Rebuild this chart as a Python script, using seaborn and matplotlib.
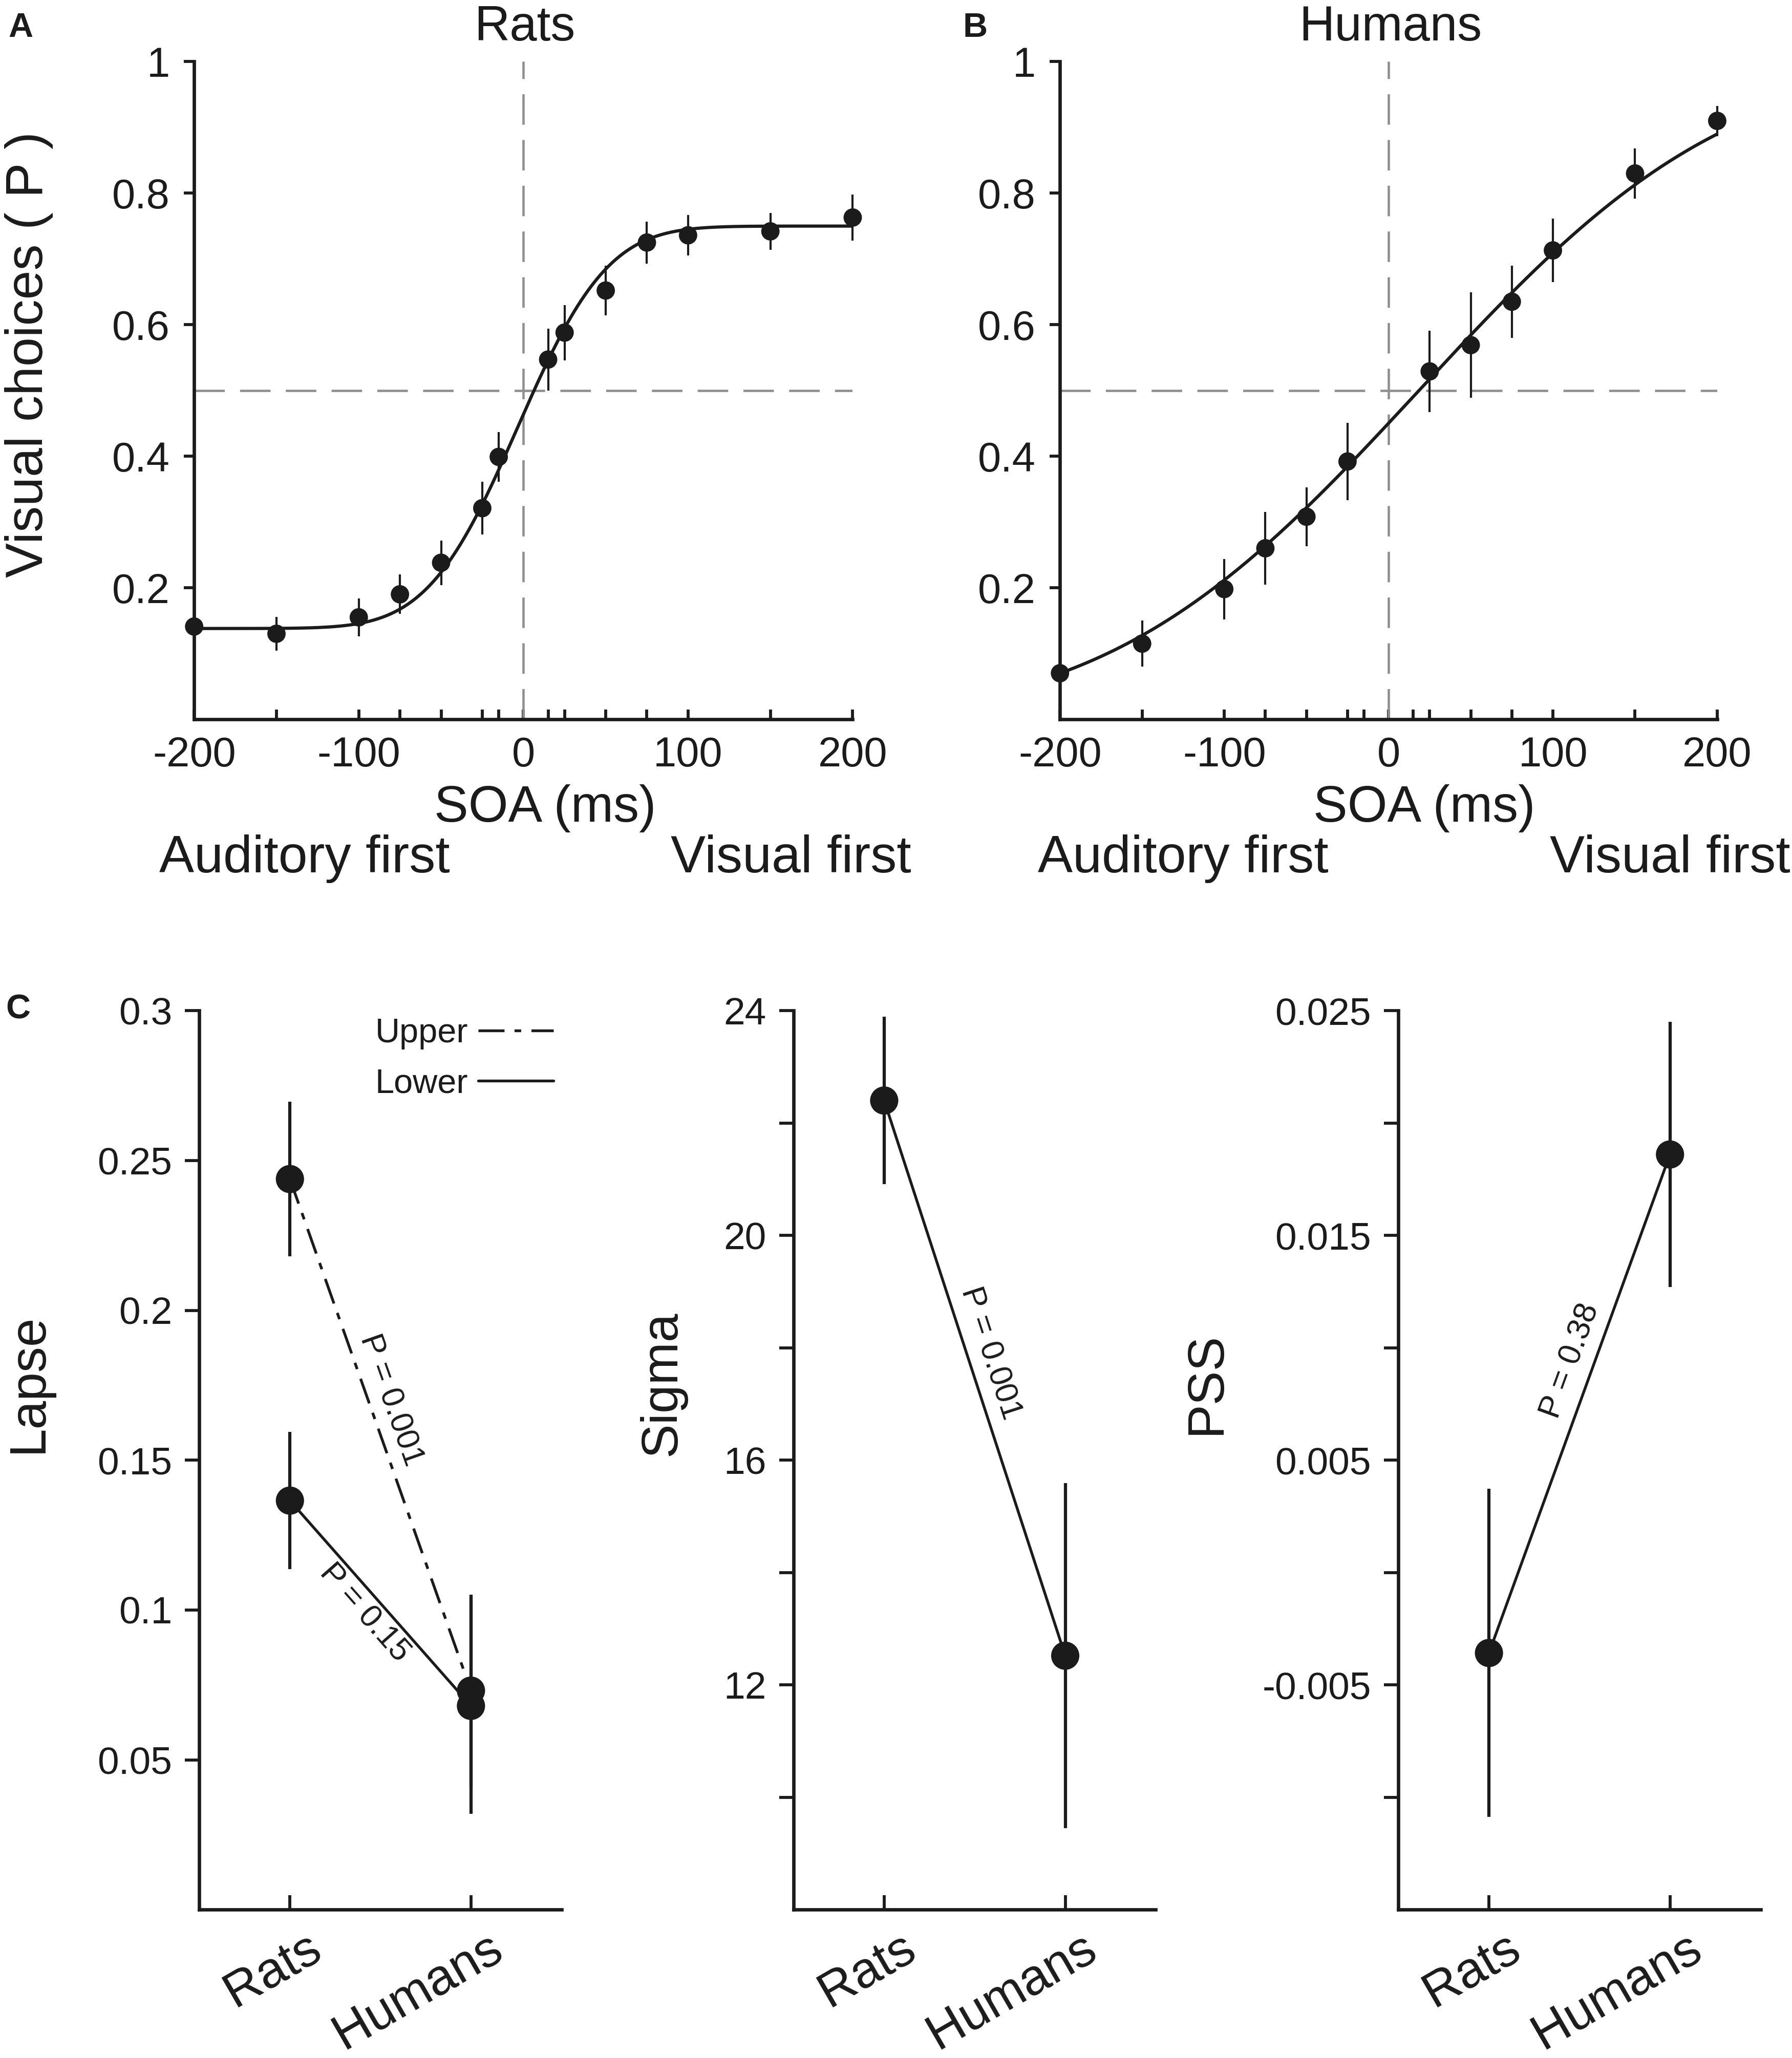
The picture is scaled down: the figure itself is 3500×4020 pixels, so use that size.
import math
import numpy as np
import pandas as pd
import matplotlib
matplotlib.use("Agg")
import matplotlib.pyplot as plt
from matplotlib.lines import Line2D
import seaborn as sns

# ---------------- panels A / B : psychometric data ----------------
soa_ticks = [-200, -150, -100, -75, -50, -25, -15, 0, 15, 25, 50, 75, 100, 150, 200]
soa_ticklabels = ["-200", "", "-100", "", "", "", "", "0", "", "", "", "", "100", "", "200"]
p_ticks = [0.2, 0.4, 0.6, 0.8, 1.0]
p_ticklabels = ["0.2", "0.4", "0.6", "0.8", "1"]

rat_soa = [-200, -150, -100, -75, -50, -25, -15, 15, 25, 50, 75, 100, 150, 200]
rat_p = [0.141, 0.130, 0.155, 0.190, 0.238, 0.321, 0.399, 0.547, 0.588, 0.652, 0.725, 0.736, 0.742, 0.763]
rat_err = [0.012, 0.026, 0.029, 0.030, 0.034, 0.040, 0.038, 0.047, 0.042, 0.038, 0.032, 0.031, 0.028, 0.035]

human_soa = [-200, -150, -100, -75, -50, -25, 25, 50, 75, 100, 150, 200]
human_p = [0.070, 0.115, 0.198, 0.260, 0.308, 0.392, 0.529, 0.569, 0.635, 0.713, 0.830, 0.910]
human_err = [0.010, 0.035, 0.046, 0.055, 0.045, 0.059, 0.062, 0.080, 0.055, 0.048, 0.038, 0.023]

# fitted cumulative-gaussian parameters (guess rate, lapse rate, PSS, sigma)
rat_fit = [0.138, 0.250, -3.5, 43.0]
human_fit = [0.0, 0.0, 18.5, 148.0]

# ---------------- panel C : fit parameters ----------------
groups = ["Rats", "Humans"]
lapse_upper = [0.2438, 0.0731]
lapse_upper_err = [0.0258, 0.032]
lapse_lower = [0.1365, 0.0680]
lapse_lower_err = [0.0229, 0.036]
sigma_vals = [22.40, 12.52]
sigma_err = [1.49, 3.07]
pss_vals = [-0.00358, 0.0186]
pss_err = [0.0073, 0.0059]

INK = "#1b1b1b"
GRID = "#8f8f8f"

sns.set_style("ticks")
plt.rcParams["font.family"] = ["Liberation Sans", "DejaVu Sans"]
plt.rcParams["text.color"] = INK
plt.rcParams["axes.edgecolor"] = INK
plt.rcParams["xtick.color"] = INK
plt.rcParams["ytick.color"] = INK
plt.rcParams["axes.linewidth"] = 1.6

fig = plt.figure(figsize=(3500 / 300, 4020 / 300), dpi=300)


def fx(px):
    return px / 1366.0


def fy(py):
    return 1.0 - py / 1568.0


def psychometric(x, g, l, mu, s):
    return np.array([g + (1 - g - l) * 0.5 * (1 + math.erf((v - mu) / (s * math.sqrt(2)))) for v in x])


def psych_panel(rect, soa, p, err, fit):
    ax = fig.add_axes(rect)
    ax.axhline(0.5, color=GRID, lw=1.1, dashes=(13, 6.5), zorder=1)
    ax.axvline(0, color=GRID, lw=1.1, dashes=(13, 6.5), zorder=1)
    grid = np.linspace(-200, 200, 401)
    curve = pd.DataFrame({"soa": grid, "p": psychometric(grid, *fit)})
    sns.lineplot(data=curve, x="soa", y="p", ax=ax, color=INK, lw=1.5, zorder=3)
    ax.errorbar(soa, p, yerr=err, fmt="none", ecolor=INK, elinewidth=1.0, capsize=0, zorder=4, clip_on=False)
    pts = pd.DataFrame({"soa": soa, "p": p})
    sns.scatterplot(data=pts, x="soa", y="p", ax=ax, color=INK, s=74, edgecolor="none", zorder=5, clip_on=False)
    ax.set_xlim(-200, 200)
    ax.set_ylim(0, 1)
    ax.set_xticks(soa_ticks)
    ax.set_xticklabels(soa_ticklabels)
    ax.set_yticks(p_ticks)
    ax.set_yticklabels(p_ticklabels)
    ax.tick_params(axis="y", direction="out", length=4.9, width=1.4, pad=6.5, labelsize=19.5)
    ax.tick_params(axis="x", direction="in", length=4.6, width=1.4, pad=8, labelsize=19.5)
    ax.set_xlabel("")
    ax.set_ylabel("")
    sns.despine(ax=ax)
    return ax


axA = psych_panel([fx(148), fy(548), fx(502), 501 / 1568.0], rat_soa, rat_p, rat_err, rat_fit)
axB = psych_panel([fx(808), fy(548), fx(501), 501 / 1568.0], human_soa, human_p, human_err, human_fit)

fig.text(fx(400), fy(30.7), "Rats", ha="center", va="baseline", fontsize=23)
fig.text(fx(1060), fy(30.7), "Humans", ha="center", va="baseline", fontsize=23)
fig.text(fx(22), fy(270), "Visual choices ( P )", rotation=90, ha="center", va="center", fontsize=24.5)
for dx in (0, 670):
    fig.text(fx(415.6 + dx), fy(626), "SOA (ms)", ha="center", va="baseline", fontsize=24)
    fig.text(fx(232 + dx), fy(664.5), "Auditory first", ha="center", va="baseline", fontsize=24.5)
    fig.text(fx(603 + dx), fy(664.5), "Visual first", ha="center", va="baseline", fontsize=24.5)

fig.text(fx(6.5), fy(28), "A", ha="left", va="baseline", fontsize=16, fontweight="bold")
fig.text(fx(734), fy(28), "B", ha="left", va="baseline", fontsize=16, fontweight="bold")
fig.text(fx(4.5), fy(776), "C", ha="left", va="baseline", fontsize=16, fontweight="bold")


# ---------------- panel C ----------------
def param_axes(left_px, ylim, ticks, labels):
    ax = fig.add_axes([fx(left_px), fy(1455), fx(276), 685 / 1568.0])
    ax.set_xlim(-0.5, 1.5)
    ax.set_ylim(*ylim)
    ax.set_xticks([0, 1])
    ax.set_xticklabels([])
    ax.set_yticks(ticks)
    ax.set_yticklabels(labels)
    ax.tick_params(axis="y", direction="out", length=6.8, width=1.4, pad=6, labelsize=18)
    ax.tick_params(axis="x", direction="in", length=6.8, width=1.4)
    for i, g in enumerate(groups):
        ax.annotate(g, xy=(i, 0), xycoords=("data", "axes fraction"), xytext=(7.5, -7.0),
                    textcoords="offset points", ha="right", va="top", rotation=30,
                    rotation_mode="anchor", fontsize=23.5)
    sns.despine(ax=ax)
    return ax


def connect(ax, vals, errs, dashes=None):
    df = pd.DataFrame({"x": [0, 1], "y": vals})
    line = sns.lineplot(data=df, x="x", y="y", ax=ax, color=INK, lw=1.3, zorder=3)
    if dashes is not None:
        line.lines[-1].set_dashes(dashes)
    ax.errorbar([0, 1], vals, yerr=errs, fmt="none", ecolor=INK, elinewidth=1.5, capsize=0, zorder=4)
    sns.scatterplot(data=df, x="x", y="y", ax=ax, color=INK, s=175, edgecolor="none", zorder=5)
    ax.set_xlabel("")
    ax.set_ylabel("")


def p_text(ax, vals, x, y, text):
    p0 = ax.transData.transform((0, vals[0]))
    p1 = ax.transData.transform((1, vals[1]))
    ang = np.degrees(np.arctan2(p1[1] - p0[1], p1[0] - p0[0]))
    ax.text(x, y, text, rotation=ang, rotation_mode="anchor", ha="center", va="center", fontsize=15)


dash_dot = (9.4, 3.6, 2.4, 3.7)

ax1 = param_axes(152, (0, 0.3), [0.05, 0.1, 0.15, 0.2, 0.25, 0.3],
                 ["0.05", "0.1", "0.15", "0.2", "0.25", "0.3"])
connect(ax1, lapse_upper, lapse_upper_err, dashes=dash_dot)
connect(ax1, lapse_lower, lapse_lower_err)
p_text(ax1, lapse_upper, 0.558, 0.170, "P = 0.001")
p_text(ax1, lapse_lower, 0.413, 0.099, "P = 0.15")
handles = [Line2D([], [], color=INK, lw=1.3, dashes=dash_dot), Line2D([], [], color=INK, lw=1.3)]
ax1.legend(handles, ["Upper", "Lower"], loc="upper right", bbox_to_anchor=(0.978, 0.992),
           frameon=False, markerfirst=False, fontsize=16, handlelength=2.2, handletextpad=0.3,
           labelspacing=0.55, borderpad=0, borderaxespad=0)

ax2 = param_axes(605, (8, 24), [10, 12, 14, 16, 18, 20, 22, 24],
                 ["", "12", "", "16", "", "20", "", "24"])
connect(ax2, sigma_vals, sigma_err)
p_text(ax2, sigma_vals, 0.587, 17.9, "P = 0.001")

ax3 = param_axes(1066, (-0.015, 0.025), [-0.01, -0.005, 0, 0.005, 0.01, 0.015, 0.02, 0.025],
                 ["", "-0.005", "", "0.005", "", "0.015", "", "0.025"])
connect(ax3, pss_vals, pss_err)
p_text(ax3, pss_vals, 0.449, 0.00941, "P = 0.38")

fig.text(fx(21.7), fy(1054), "Lapse", rotation=90, ha="center", va="center", fontsize=24)
fig.text(fx(505), fy(1054), "Sigma", rotation=90, ha="center", va="center", fontsize=24)
fig.text(fx(920), fy(1054), "PSS", rotation=90, ha="center", va="center", fontsize=24)

fig.savefig("out.png", dpi=300)
